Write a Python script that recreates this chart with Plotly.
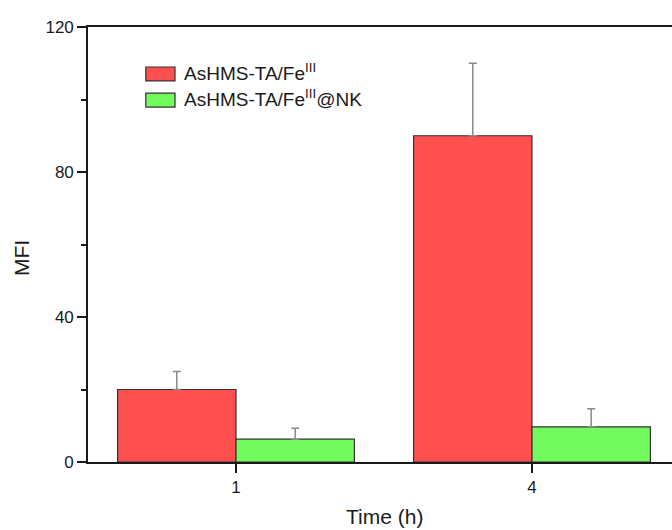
import plotly.graph_objects as go

# Time points (h) and mean fluorescence intensity with upper error
time_labels = ["1", "4"]
mfi_fe = [20.0, 90.0]
err_fe = [5.0, 20.0]
mfi_fe_nk = [6.3, 9.7]
err_fe_nk = [3.0, 5.0]

series_names = ["AsHMS-TA/Fe<sup>III</sup>", "AsHMS-TA/Fe<sup>III</sup>@NK"]
series_colors = ["#FF5050", "#72FA5E"]
x_title = "Time (h)"
y_title = "MFI"

FONT = "Liberation Sans, Arial, sans-serif"
INK = "#1a1a1a"

x_pos = list(range(len(time_labels)))

fig = go.Figure()
for name, vals, errs, color in zip(series_names,
                                   [mfi_fe, mfi_fe_nk],
                                   [err_fe, err_fe_nk],
                                   series_colors):
    fig.add_trace(go.Bar(
        x=x_pos, y=vals, name=name,
        marker=dict(color=color, line=dict(color="#333333", width=1.2)),
        error_y=dict(type="data", array=errs, symmetric=False,
                     arrayminus=[0] * len(errs),
                     color="#8a8a8a", thickness=1.5, width=4),
        showlegend=False,
    ))

# Legend drawn as swatches + labels in the upper-left of the plot
legend_rows = [(0.908, 0.876), (0.848, 0.816)]
for (y1, y0), name, color in zip(legend_rows, series_names, series_colors):
    fig.add_shape(type="rect", xref="paper", yref="paper",
                  x0=0.099, x1=0.149, y0=y0, y1=y1,
                  fillcolor=color, line=dict(color="#333333", width=1.2))
    fig.add_annotation(xref="paper", yref="paper", x=0.161, y=(y0 + y1) / 2 + 0.004,
                       text=name, showarrow=False, xanchor="left",
                       yanchor="middle",
                       font=dict(family=FONT, size=19, color=INK))

# Axis titles
fig.add_annotation(xref="paper", yref="paper", x=0.507, y=-0.126,
                   text=x_title, showarrow=False, xanchor="center", yanchor="middle",
                   font=dict(family=FONT, size=21, color=INK))
fig.add_annotation(xref="paper", yref="paper", x=-0.113, y=0.469,
                   text=y_title, showarrow=False, textangle=-90,
                   xanchor="center", yanchor="middle",
                   font=dict(family=FONT, size=21, color=INK))

fig.update_layout(
    width=672, height=530,
    margin=dict(l=88, r=0, t=27, b=68),
    paper_bgcolor="white", plot_bgcolor="white",
    barmode="group", bargap=0.2, bargroupgap=0.0,
    font=dict(family=FONT, size=17, color=INK),
)

fig.update_xaxes(
    range=[-0.5, 1.473],
    tickvals=x_pos, ticktext=time_labels,
    ticks="outside", ticklen=9, tickwidth=1.6, tickcolor=INK,
    showline=True, linewidth=1.6, linecolor=INK, mirror=True,
    showgrid=False, zeroline=False,
    tickfont=dict(family=FONT, size=17, color=INK),
)

fig.update_yaxes(
    range=[0, 120], tickvals=[0, 40, 80, 120],
    ticks="outside", ticklen=9, tickwidth=1.6, tickcolor=INK,
    minor=dict(tickvals=[20, 60, 100], ticks="outside", ticklen=5,
               tickwidth=1.6, tickcolor=INK, showgrid=False),
    showline=True, linewidth=1.6, linecolor=INK,
    showgrid=False, zeroline=False,
    tickfont=dict(family=FONT, size=17, color=INK),
)

fig.write_html("out.html")
